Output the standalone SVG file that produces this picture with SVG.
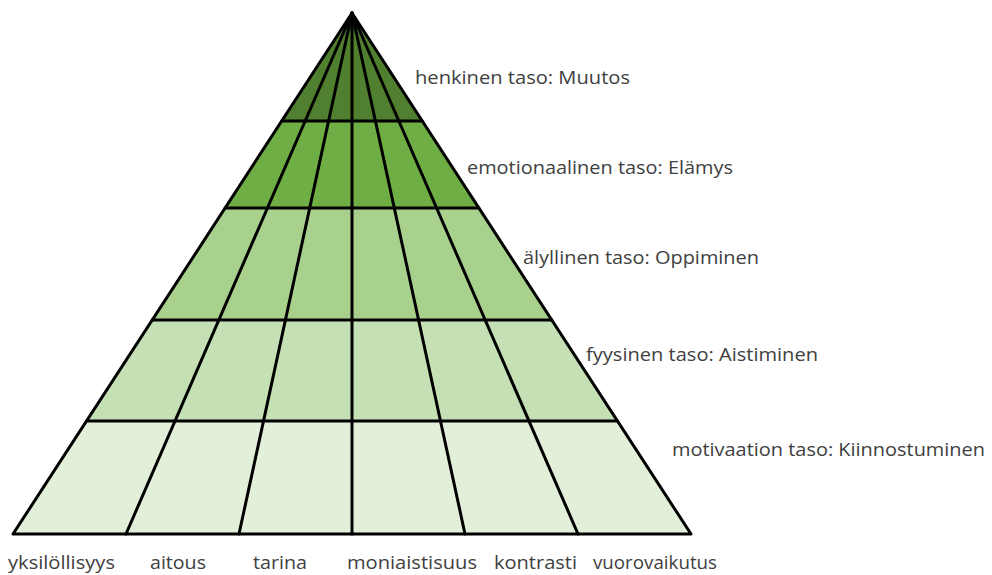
<svg xmlns="http://www.w3.org/2000/svg" width="992" height="575" viewBox="0 0 992 575">
<style>
.ln{stroke:#000;stroke-width:3;fill:none;stroke-linecap:round;stroke-linejoin:round}
.lbl{font-family:"Open Sans","Liberation Sans",sans-serif;font-size:18.5px;fill:#404040}
</style>
<rect width="992" height="575" fill="#fff"/>
<g id="level5"><polygon points="86.5,421 617.5,421 691,534 13,534" fill="#e2f0d9"/></g>
<g id="level4"><polygon points="152.2,320 551.8,320 617.5,421 86.5,421" fill="#c5e0b4"/></g>
<g id="level3"><polygon points="225.1,208 478.9,208 551.8,320 152.2,320" fill="#a9d18e"/></g>
<g id="level2"><polygon points="281.7,121 422.3,121 478.9,208 225.1,208" fill="#6fae45"/></g>
<g id="level1"><polygon points="352,13 422.3,121 281.7,121" fill="#4f7f2f"/></g>
<g id="connectors">
<polygon class="ln" points="352,13 691,534 13,534"/>
<line class="ln" x1="352" y1="13" x2="126" y2="534"/>
<line class="ln" x1="352" y1="13" x2="239" y2="534"/>
<line class="ln" x1="352" y1="13" x2="352" y2="534"/>
<line class="ln" x1="352" y1="13" x2="465" y2="534"/>
<line class="ln" x1="352" y1="13" x2="578" y2="534"/>
<line class="ln" x1="281.7" y1="121" x2="422.3" y2="121"/>
<line class="ln" x1="225.1" y1="208" x2="478.9" y2="208"/>
<line class="ln" x1="152.2" y1="320" x2="551.8" y2="320"/>
<line class="ln" x1="86.5" y1="421" x2="617.5" y2="421"/>
</g>
<g id="level-labels">
<text class="lbl" x="415" y="84" textLength="215" lengthAdjust="spacingAndGlyphs">henkinen taso: Muutos</text>
<text class="lbl" x="467" y="174" textLength="266" lengthAdjust="spacingAndGlyphs">emotionaalinen taso: Elämys</text>
<text class="lbl" x="523" y="264" textLength="236" lengthAdjust="spacingAndGlyphs">älyllinen taso: Oppiminen</text>
<text class="lbl" x="586" y="361" textLength="232" lengthAdjust="spacingAndGlyphs">fyysinen taso: Aistiminen</text>
<text class="lbl" x="672" y="456" textLength="313" lengthAdjust="spacingAndGlyphs">motivaation taso: Kiinnostuminen</text>
</g>
<g id="column-labels">
<text class="lbl" x="8" y="569" textLength="107" lengthAdjust="spacingAndGlyphs">yksilöllisyys</text>
<text class="lbl" x="150" y="569" textLength="56" lengthAdjust="spacingAndGlyphs">aitous</text>
<text class="lbl" x="253" y="569" textLength="54" lengthAdjust="spacingAndGlyphs">tarina</text>
<text class="lbl" x="347" y="569" textLength="130" lengthAdjust="spacingAndGlyphs">moniaistisuus</text>
<text class="lbl" x="494" y="569" textLength="83" lengthAdjust="spacingAndGlyphs">kontrasti</text>
<text class="lbl" x="593" y="569" textLength="124" lengthAdjust="spacingAndGlyphs">vuorovaikutus</text>
</g>
</svg>
